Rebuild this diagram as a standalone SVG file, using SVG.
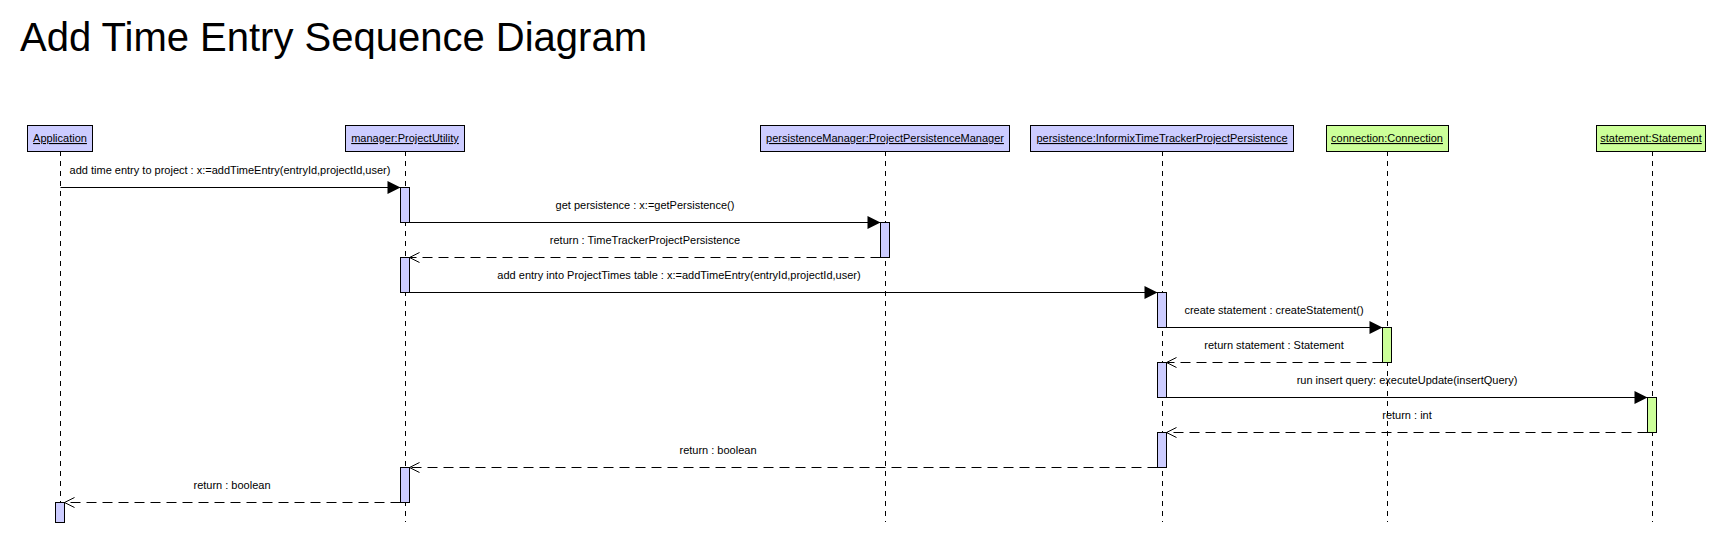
<svg xmlns="http://www.w3.org/2000/svg" width="1719" height="533" viewBox="0 0 1719 533">
<style>
.title{font-family:"Liberation Sans",Arial,sans-serif;font-size:40px;fill:#000}
.hdr{font-family:"Liberation Sans",Arial,sans-serif;font-size:11px;fill:#000;text-anchor:middle;text-decoration:underline}
.lbl{font-family:"Liberation Sans",Arial,sans-serif;font-size:11px;fill:#000;text-anchor:middle}
.blue{fill:#ccccff;stroke:#000;stroke-width:1}
.green{fill:#ccff99;stroke:#000;stroke-width:1}
.life{stroke:#000;stroke-width:1;stroke-dasharray:5,5;fill:none}
.call{stroke:#000;stroke-width:1;fill:none;marker-end:url(#filled)}
.ret{stroke:#000;stroke-width:1;fill:none;stroke-dasharray:10,6;marker-end:url(#open)}
</style>
<defs>
<marker id="filled" markerUnits="userSpaceOnUse" markerWidth="14" markerHeight="14" refX="13" refY="6.5" orient="auto" overflow="visible">
<path d="M0,0 L13,6.5 L0,13 z" fill="#000"/>
</marker>
<marker id="open" markerUnits="userSpaceOnUse" markerWidth="12" markerHeight="12" refX="10" refY="5" orient="auto" overflow="visible">
<path d="M0,0 L10,5 L0,10" fill="none" stroke="#000" stroke-width="1"/>
</marker>
</defs>
<rect width="1719" height="533" fill="#fff"/>
<text class="title" x="20" y="51">Add Time Entry Sequence Diagram</text>

<g id="lifelines">
<line class="life" x1="60.5" y1="151" x2="60.5" y2="522"/>
<line class="life" x1="405.5" y1="151" x2="405.5" y2="522"/>
<line class="life" x1="885.5" y1="151" x2="885.5" y2="522"/>
<line class="life" x1="1162.5" y1="151" x2="1162.5" y2="522"/>
<line class="life" x1="1387.5" y1="151" x2="1387.5" y2="522"/>
<line class="life" x1="1652.5" y1="151" x2="1652.5" y2="522"/>
</g>

<g id="node-application">
<rect class="blue" x="27.5" y="125.5" width="65" height="26"/>
<text class="hdr" x="60" y="142">Application</text>
<rect class="blue" x="55.5" y="502.5" width="9" height="20"/>
</g>
<g id="node-manager">
<rect class="blue" x="345.5" y="125.5" width="119" height="26"/>
<text class="hdr" x="405" y="142">manager:ProjectUtility</text>
<rect class="blue" x="400.5" y="187.5" width="9" height="35"/>
<rect class="blue" x="400.5" y="257.5" width="9" height="35"/>
<rect class="blue" x="400.5" y="467.5" width="9" height="35"/>
</g>
<g id="node-persistenceManager">
<rect class="blue" x="760.5" y="125.5" width="249" height="26"/>
<text class="hdr" x="885" y="142">persistenceManager:ProjectPersistenceManager</text>
<rect class="blue" x="880.5" y="222.5" width="9" height="35"/>
</g>
<g id="node-persistence">
<rect class="blue" x="1030.5" y="125.5" width="263" height="26"/>
<text class="hdr" x="1162" y="142">persistence:InformixTimeTrackerProjectPersistence</text>
<rect class="blue" x="1157.5" y="292.5" width="9" height="35"/>
<rect class="blue" x="1157.5" y="362.5" width="9" height="35"/>
<rect class="blue" x="1157.5" y="432.5" width="9" height="35"/>
</g>
<g id="node-connection">
<rect class="green" x="1326.5" y="125.5" width="122" height="26"/>
<text class="hdr" x="1387" y="142">connection:Connection</text>
<rect class="green" x="1382.5" y="327.5" width="9" height="35"/>
</g>
<g id="node-statement">
<rect class="green" x="1596.5" y="125.5" width="109" height="26"/>
<text class="hdr" x="1651" y="142">statement:Statement</text>
<rect class="green" x="1647.5" y="397.5" width="9" height="35"/>
</g>

<g id="connectors">
<line class="call" x1="60.5" y1="187.5" x2="400.5" y2="187.5"/>
<text class="lbl" x="230" y="174">add time entry to project : x:=addTimeEntry(entryId,projectId,user)</text>
<line class="call" x1="409.5" y1="222.5" x2="880.5" y2="222.5"/>
<text class="lbl" x="645" y="209">get persistence : x:=getPersistence()</text>
<line class="ret" x1="880.5" y1="257.5" x2="409.5" y2="257.5"/>
<text class="lbl" x="645" y="244">return : TimeTrackerProjectPersistence</text>
<line class="call" x1="409.5" y1="292.5" x2="1157.5" y2="292.5"/>
<text class="lbl" x="679" y="279">add entry into ProjectTimes table : x:=addTimeEntry(entryId,projectId,user)</text>
<line class="call" x1="1166.5" y1="327.5" x2="1382.5" y2="327.5"/>
<text class="lbl" x="1274" y="314">create statement : createStatement()</text>
<line class="ret" x1="1382.5" y1="362.5" x2="1166.5" y2="362.5"/>
<text class="lbl" x="1274" y="349">return statement : Statement</text>
<line class="call" x1="1166.5" y1="397.5" x2="1647.5" y2="397.5"/>
<text class="lbl" x="1407" y="384">run insert query: executeUpdate(insertQuery)</text>
<line class="ret" x1="1647.5" y1="432.5" x2="1166.5" y2="432.5"/>
<text class="lbl" x="1407" y="419">return : int</text>
<line class="ret" x1="1157.5" y1="467.5" x2="409.5" y2="467.5"/>
<text class="lbl" x="718" y="454">return : boolean</text>
<line class="ret" x1="400.5" y1="502.5" x2="64.5" y2="502.5"/>
<text class="lbl" x="232" y="489">return : boolean</text>
</g>
</svg>
